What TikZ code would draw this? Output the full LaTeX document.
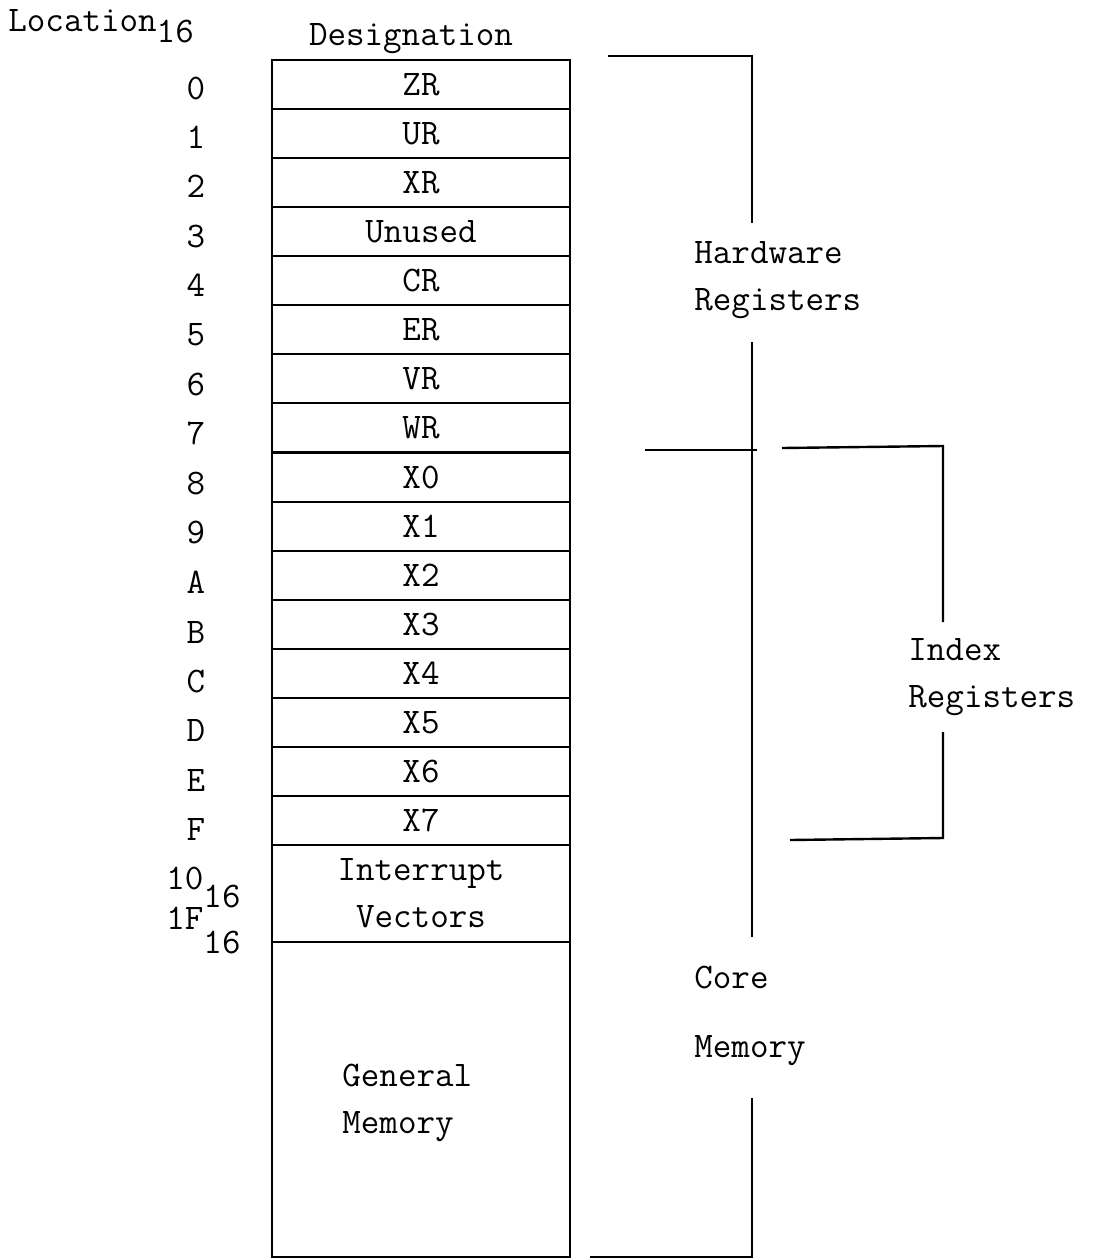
\documentclass[tikz,border=0pt]{standalone}
\usepackage{fontspec}
\usepackage{tikz}
\usetikzlibrary{positioning}
\newcommand{\memfont}{\fontsize{18}{23.5}\selectfont\ttfamily}
\newcommand{\lowsub}[2][5.5pt]{\raisebox{-#1}{#2}}

\begin{document}
\begin{tikzpicture}[x=0.5pt,y=-0.5pt,
  txt/.style={font=\memfont,inner sep=0pt},
  cell/.style={txt,draw,line width=1pt,minimum width=149pt,minimum height=24.53pt},
  bracket/.style={line width=1.2pt}]
  \useasboundingbox (0,0) rectangle (1094,1260); % 画像と同じ大きさの枠
  \node[txt,anchor=base west] (lochead) at (8,31) {Location\lowsub{16}}; % 左の見出し
  \node[txt] (deshead) at (411,39) {Designation}; % 表の見出し
  \node[cell] (zr) at (421,84.5) {ZR};       \node[txt] (l0) at (196,88) {0};
  \node[cell] (ur) at (421,133.6) {UR};      \node[txt] (l1) at (196,137) {1};
  \node[cell] (xr) at (421,182.7) {XR};      \node[txt] (l2) at (196,186) {2};
  \node[cell] (unused) at (421,231.7) {Unused}; \node[txt] (l3) at (196,236) {3};
  \node[cell] (cr) at (421,280.8) {CR};      \node[txt] (l4) at (196,285) {4};
  \node[cell] (er) at (421,329.8) {ER};      \node[txt] (l5) at (196,335) {5};
  \node[cell] (vr) at (421,378.9) {VR};      \node[txt] (l6) at (196,384) {6};
  \node[cell] (wr) at (421,428.0) {WR};      \node[txt] (l7) at (196,433) {7};
  \node[cell] (xa) at (421,477.0) {X0};      \node[txt] (l8) at (196,483) {8};
  \node[cell] (xb) at (421,526.1) {X1};      \node[txt] (l9) at (196,532) {9};
  \node[cell] (xc) at (421,575.2) {X2};      \node[txt] (lA) at (196,582) {A};
  \node[cell] (xd) at (421,624.2) {X3};      \node[txt] (lB) at (196,632) {B};
  \node[cell] (xe) at (421,673.3) {X4};      \node[txt] (lC) at (196,681) {C};
  \node[cell] (xf) at (421,722.3) {X5};      \node[txt] (lD) at (196,730) {D};
  \node[cell] (xg) at (421,771.4) {X6};      \node[txt] (lE) at (196,780) {E};
  \node[cell] (xh) at (421,820.5) {X7};      \node[txt] (lF) at (196,829) {F};
  \node[cell,minimum height=48.5pt,align=center] (iv) at (421,893.5) {Interrupt\\Vectors}; % 割込みベクタ
  \node[txt,anchor=base west] (l10) at (166,889) {10\lowsub[9pt]{16}}; % 先頭番地
  \node[txt,anchor=base west] (l1F) at (166,929) {1F\lowsub[12pt]{16}}; % 末尾番地
  \node[cell,minimum height=157.5pt] (gm) at (421,1099.5) {}; % 一般メモリの枠
  \node[txt,anchor=west,align=left] (gmtext) at (342,1103) {General\\Memory}; % 一般メモリの文字
  \coordinate (hwa) at (608,56);  \coordinate (hwb) at (752,56);
  \coordinate (hwc) at (752,223); \coordinate (hwd) at (752,342);
  \coordinate (cma) at (645,450); \coordinate (cmb) at (757,450);
  \coordinate (cmc) at (752,937); \coordinate (cmd) at (752,1098);
  \coordinate (cme) at (752,1257); \coordinate (cmf) at (590,1257);
  \coordinate (ira) at (782,448); \coordinate (irb) at (943,446);
  \coordinate (irc) at (943,622); \coordinate (ird) at (943,732);
  \coordinate (ire) at (943,838); \coordinate (irf) at (790,840);
  \draw[bracket] (hwa) -- (hwb) -- (hwc); % ハードウェアレジスタの括弧（上）
  \draw[bracket] (hwd) -- (cmc); % 括弧の縦線（中）
  \draw[bracket] (cma) -- (cmb); % コアメモリの括弧の始まり
  \draw[bracket] (cmd) -- (cme) -- (cmf); % コアメモリの括弧（下）
  \draw[bracket] (ira) -- (irb) -- (irc); % インデックスレジスタの括弧（上）
  \draw[bracket] (ird) -- (ire) -- (irf); % インデックスレジスタの括弧（下）
  \node[txt,anchor=west,align=left] (hwtext) at (694,280) {Hardware\\Registers};
  \node[txt,anchor=west,align=left] (cmtext) at (694,1016) {Core\\[11pt]Memory};
  \node[txt,anchor=west,align=left] (irtext) at (908,677) {Index\\Registers};
\end{tikzpicture}
\end{document}
